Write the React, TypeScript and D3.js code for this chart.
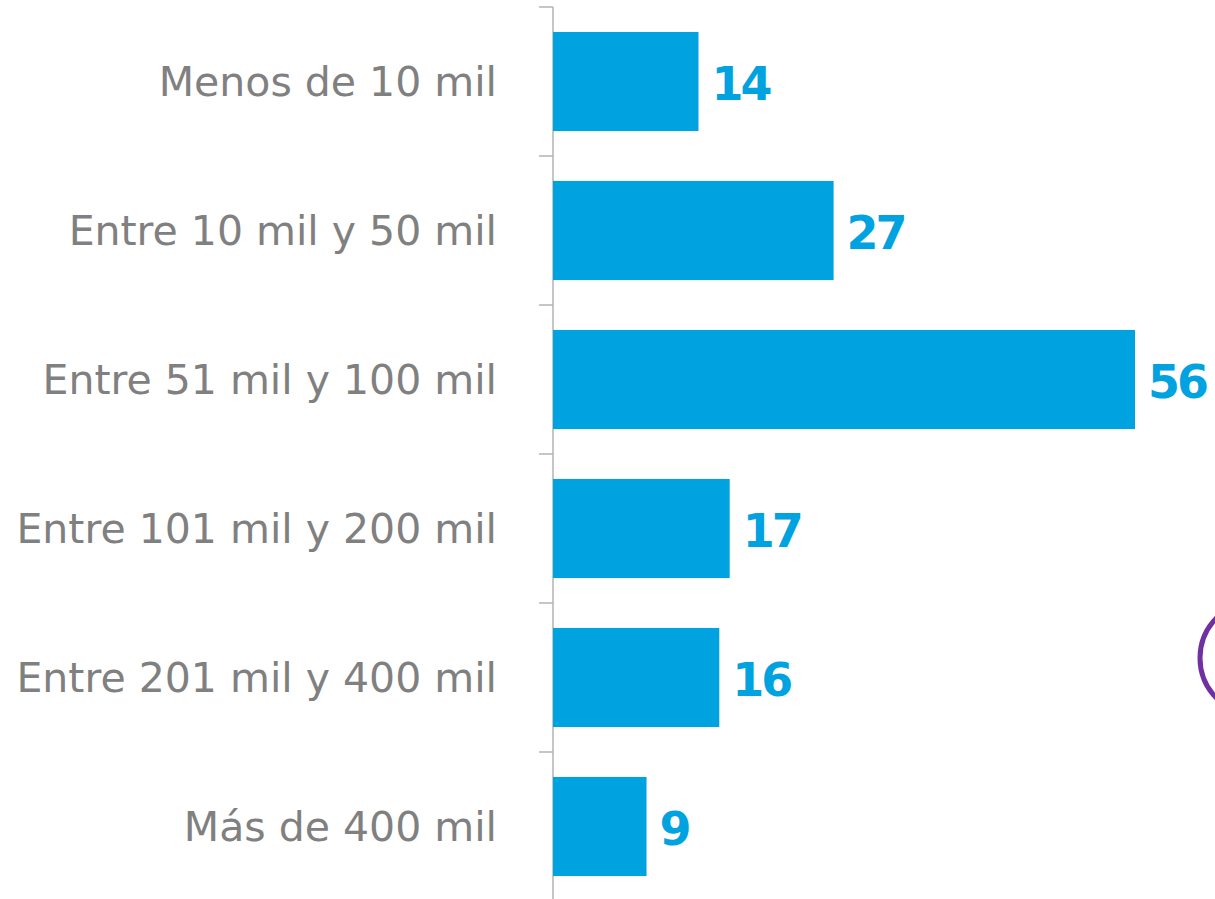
import React from "react";
import * as d3 from "d3";

const categories = [
  "Menos de 10 mil",
  "Entre 10 mil y 50 mil",
  "Entre 51 mil y 100 mil",
  "Entre 101 mil y 200 mil",
  "Entre 201 mil y 400 mil",
  "Más de 400 mil",
];
const values = [14, 27, 56, 17, 16, 9];

const W = 1215;
const H = 899;
const axisX = 553;
const BLUE = "#00a3e0";

export default function App() {
  const y = d3.scaleBand<string>().domain(categories).range([7, 901]).paddingInner(0.335).paddingOuter(0.1675);
  const x = d3.scaleLinear().domain([0, 56]).range([axisX, 1135]);
  const step = y.step();
  const bandStarts = categories.map((c) => (y(c) as number) - (step * 0.335) / 2);
  return (
    <svg width={W} height={H} style={{ position: "absolute", left: 0, top: 0, background: "#fff" }}>
      <line x1={axisX} x2={axisX} y1={7} y2={899} stroke="#b3b3b3" strokeWidth={1.5} />
      {bandStarts.map((b, i) => (
        <line key={i} x1={539} x2={axisX} y1={b} y2={b} stroke="#b3b3b3" strokeWidth={1.5} />
      ))}
      {categories.map((c, i) => {
        const yc = (y(c) as number) + y.bandwidth() / 2;
        return (
          <g key={c}>
            <rect x={axisX} y={y(c)} width={x(values[i]) - axisX} height={y.bandwidth()} fill={BLUE} />
            <text
              x={497}
              y={yc}
              textAnchor="end"
              dominantBaseline="central"
              fill="#808080"
              fontFamily="'DejaVu Sans', sans-serif"
              fontSize={41}
            >
              {c}
            </text>
            <text
              x={x(values[i]) + 13}
              y={yc + 2}
              dominantBaseline="central"
              fill={BLUE}
              fontFamily="'DejaVu Sans', sans-serif"
              fontWeight="bold"
              fontSize={46}
              letterSpacing={-3}
            >
              {values[i]}
            </text>
          </g>
        );
      })}
      <circle cx={1257} cy={658} r={57} fill="none" stroke="#7030a0" strokeWidth={5} />
    </svg>
  );
}
